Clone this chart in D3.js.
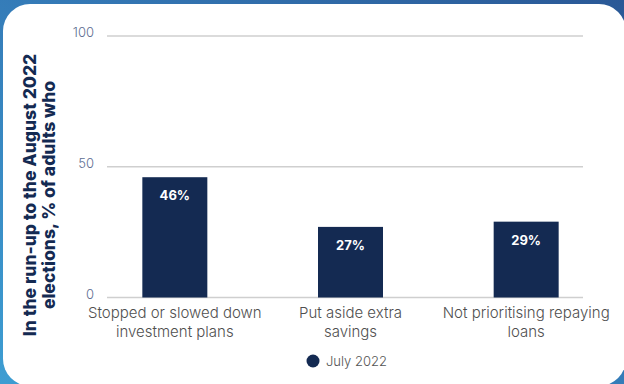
<!DOCTYPE html>
<html>
<head>
<meta charset="utf-8">
<script src="https://cdn.jsdelivr.net/npm/d3@7"></script>
<style>
  html, body { margin: 0; padding: 0; background: #fff; }
  svg { display: block; }
</style>
</head>
<body>
<svg id="chart" width="624" height="384"></svg>
<script>
// Survey results: share of adults taking each financial action
const categories = [
  ["Stopped or slowed down", "investment plans"],
  ["Put aside extra", "savings"],
  ["Not prioritising repaying", "loans"]
];
const values = [46, 27, 29];
const yTicks = [0, 50, 100];
const seriesName = "July 2022";
const axisTitle = ["In the run-up to the August 2022", "elections, % of adults who"];

const W = 624, H = 384;
const svg = d3.select("#chart");

// Blue gradient frame behind the white card
const defs = svg.append("defs");
const grad = defs.append("linearGradient")
  .attr("id", "frame").attr("x1", "0%").attr("y1", "100%").attr("x2", "100%").attr("y2", "0%");
grad.append("stop").attr("offset", "0%").attr("stop-color", "#3d9dd2");
grad.append("stop").attr("offset", "55%").attr("stop-color", "#3479b6");
grad.append("stop").attr("offset", "100%").attr("stop-color", "#2a5896");
svg.append("rect").attr("width", W).attr("height", H).attr("fill", "url(#frame)");
svg.append("rect")
  .attr("x", 3).attr("y", 4).attr("width", 623).attr("height", 382)
  .attr("rx", 27).attr("ry", 27).attr("fill", "#fff");

const plot = { left: 107, right: 583, top: 36, bottom: 297.5 };

const y = d3.scaleLinear().domain([0, 100]).range([plot.bottom, plot.top]);
const x = d3.scaleBand()
  .domain(d3.range(categories.length))
  .range([87, 614])
  .paddingInner(0.63)
  .paddingOuter(0.315);

// Gridlines
svg.append("g")
  .selectAll("line")
  .data(yTicks)
  .join("line")
  .attr("x1", plot.left).attr("x2", plot.right)
  .attr("y1", d => y(d)).attr("y2", d => y(d))
  .attr("stroke", "#cfcfcf").attr("stroke-width", 1.5);

// Y tick labels
svg.append("g")
  .selectAll("text")
  .data(yTicks)
  .join("text")
  .attr("x", 94).attr("y", d => y(d) + 1)
  .attr("text-anchor", "end")
  .attr("font-family", "Inter, 'Open Sans', sans-serif")
  .attr("font-weight", 300)
  .attr("font-size", 13)
  .attr("fill", "#5d6e91")
  .text(d => d);

// Bars
svg.append("g")
  .selectAll("rect")
  .data(values)
  .join("rect")
  .attr("x", (d, i) => x(i))
  .attr("width", x.bandwidth())
  .attr("y", d => y(d))
  .attr("height", d => y(0) - y(d))
  .attr("fill", "#142a52");

// Value labels inside bars
svg.append("g")
  .selectAll("text")
  .data(values)
  .join("text")
  .attr("x", (d, i) => x(i) + x.bandwidth() / 2)
  .attr("y", d => y(d) + 23)
  .attr("text-anchor", "middle")
  .attr("font-family", "Inter, 'Open Sans', sans-serif")
  .attr("font-weight", 700)
  .attr("font-size", 13)
  .attr("fill", "#fff")
  .text(d => d + "%");

// Category labels (two lines each)
const cat = svg.append("g")
  .selectAll("text")
  .data(categories)
  .join("text")
  .attr("text-anchor", "middle")
  .attr("font-family", "Inter, 'Open Sans', sans-serif")
  .attr("font-weight", 300)
  .attr("font-size", 15)
  .attr("fill", "#4f4f4f");
cat.selectAll("tspan")
  .data((d, i) => d.map(line => ({ line, i })))
  .join("tspan")
  .attr("x", d => x(d.i) + x.bandwidth() / 2)
  .attr("y", (d, j) => 318 + j * 18.5)
  .text(d => d.line);

// Axis title, rotated
const title = svg.append("text")
  .attr("transform", "translate(0,195) rotate(-90)")
  .attr("text-anchor", "middle")
  .attr("font-family", "Inter, Roboto, sans-serif")
  .attr("font-weight", 800)
  .attr("font-size", 17.5)
  .attr("fill", "#142a52");
title.selectAll("tspan")
  .data(axisTitle)
  .join("tspan")
  .attr("x", 0)
  .attr("y", (d, j) => 36 + j * 18.5)
  .text(d => d);

// Legend
const legend = svg.append("g").attr("transform", "translate(313,361)");
legend.append("circle").attr("r", 6.5).attr("fill", "#142a52");
legend.append("text")
  .attr("x", 13).attr("y", 4.5)
  .attr("font-family", "Inter, 'Open Sans', sans-serif")
  .attr("font-weight", 300)
  .attr("font-size", 13)
  .attr("fill", "#555")
  .text(seriesName);
</script>
</body>
</html>
